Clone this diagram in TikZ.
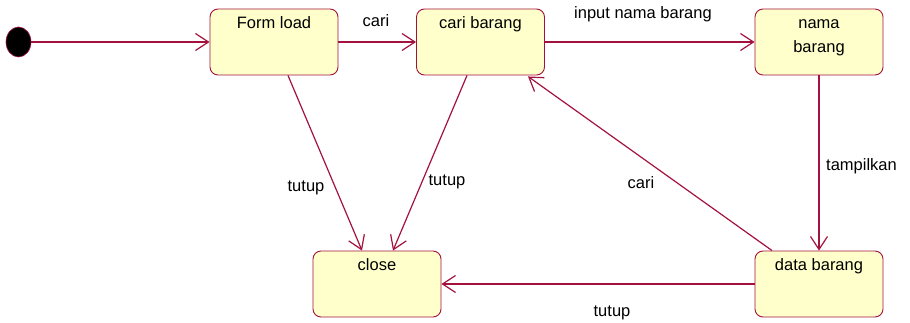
\documentclass[tikz,border=0pt]{standalone}
\usepackage{fontspec}
\setmainfont{Liberation Sans}
\usetikzlibrary{arrows.meta,shapes.geometric}
\definecolor{umlred}{RGB}{163,18,62}
\definecolor{umlfill}{RGB}{255,255,204}
\begin{document}
\begin{tikzpicture}[x=1pt,y=-1pt,
  every node/.style={font=\fontsize{16.5}{24}\selectfont},
  statebox/.style={draw=umlred, line width=0.9pt, fill=umlfill, rounded corners=8pt,
    minimum width=128pt, minimum height=66pt, inner sep=0pt},
  boxtext/.style={anchor=base, inner sep=0pt, yshift=-20pt},
  trans/.style={draw=umlred, line width=1.2pt,
    -{Straight Barb[length=13pt,width=17pt,line width=1.2pt]}},
  lbl/.style={inner sep=0pt, anchor=base, text=black}
]
\useasboundingbox (0,0) rectangle (910,323);

\node[ellipse, draw=umlred, line width=0.6pt, fill=black, minimum width=25pt, minimum height=30pt, inner sep=0pt] (init) at (18.5,42) {};

\node[statebox, label={[boxtext]north:Form load}] (form) at (274,42) {};
\node[statebox, label={[boxtext]north:cari barang}] (cari) at (480.5,42) {};
\node[statebox, label={[boxtext]north:nama}, label={[boxtext,yshift=-24pt]north:barang}] (nama) at (819,42) {};
\node[statebox, label={[boxtext]north:close}] (close) at (377,284) {};
\node[statebox, label={[boxtext]north:data barang}] (data) at (819,284) {};

\draw[trans] (init) -- (form);
\draw[trans] (form) -- (cari);
\draw[trans] (cari) -- (nama);
\draw[trans] (nama.south) -- (data.north);
\draw[trans] ([xshift=-47pt]data.north) -- ([xshift=47.5pt,yshift=-1pt]cari.south);
\draw[trans] (data.west) -- (close.east);
\draw[trans] ([xshift=14pt]form.south) -- ([xshift=-15pt]close.north);
\draw[trans] ([xshift=-13.5pt]cari.south) -- ([xshift=16pt]close.north);

\node[lbl] (l1) at (376,27) {cari};
\node[lbl] (l2) at (643,19) {input nama barang};
\node[lbl, anchor=base west] (l3) at (826,171) {tampilkan};
\node[lbl] (l4) at (641,189) {cari};
\node[lbl] (l5) at (612,316) {tutup};
\node[lbl] (l6) at (306,192) {tutup};
\node[lbl] (l7) at (447,186) {tutup};
\end{tikzpicture}
\end{document}
